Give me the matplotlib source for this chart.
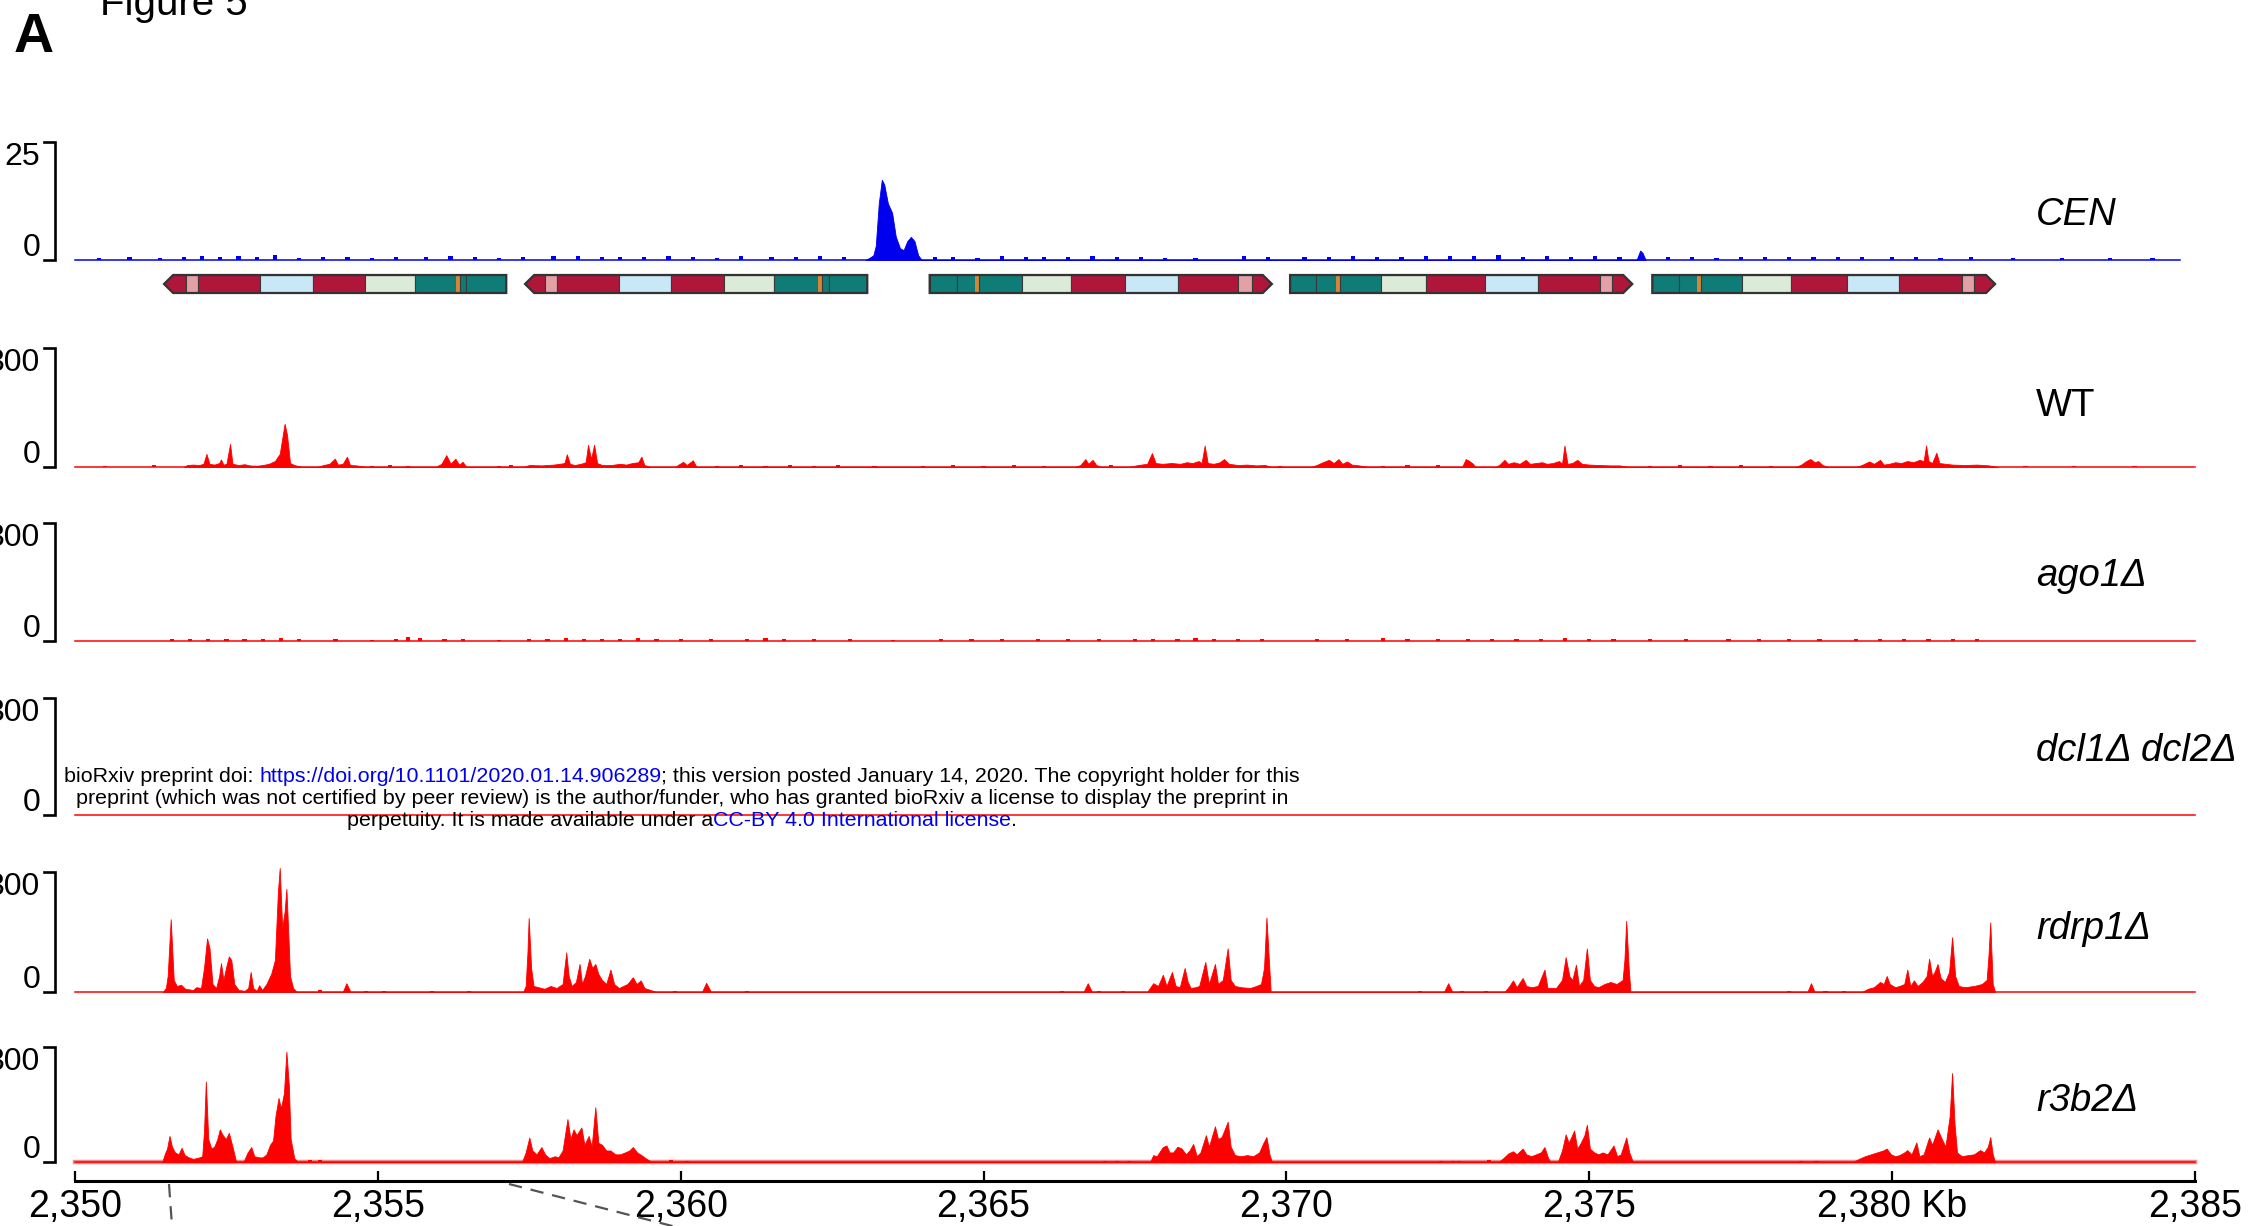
import matplotlib
matplotlib.use("Agg")
import matplotlib.pyplot as plt
from matplotlib.patches import Polygon, Rectangle
from matplotlib.lines import Line2D

plt.rcParams['font.family'] = ['Liberation Sans', 'DejaVu Sans']

W, H = 2249, 1226
fig = plt.figure(figsize=(W / 100, H / 100), dpi=100)

# ---------------- data ----------------
X_START, X_END = 2350, 2385
ruler_ticks = [2350, 2355, 2360, 2365, 2370, 2375, 2380, 2385]
ruler_labels = ['2,350', '2,355', '2,360', '2,365', '2,370', '2,375', '2,380 Kb', '2,385']

track_names = ['CEN', 'WT', 'ago1Δ', 'dcl1Δ dcl2Δ', 'rdrp1Δ', 'r3b2Δ']
track_max = [25, 300, 300, 300, 300, 300]

# CENP-A ChIP coverage (blue)
cen_cov = [(2363.05, 0), (2363.12, 0.5), (2363.18, 1.0), (2363.22, 3), (2363.27, 12),
           (2363.32, 17), (2363.36, 16), (2363.42, 12), (2363.49, 10), (2363.55, 5),
           (2363.62, 2.5), (2363.68, 2.1), (2363.74, 4), (2363.80, 4.9), (2363.86, 4),
           (2363.92, 1), (2363.98, 0),
           (2375.78, 0), (2375.84, 2), (2375.88, 1.5), (2375.93, 0)]
cen_fuzz = [(2350.4, 0.5), (2350.9, 0.6), (2351.4, 0.5), (2351.8, 0.7), (2352.1, 0.9),
            (2352.4, 0.6), (2352.7, 0.8), (2353.0, 0.6), (2353.3, 1.0), (2353.7, 0.5),
            (2354.1, 0.7), (2354.5, 0.6), (2354.9, 0.5), (2355.3, 0.7), (2355.8, 0.6),
            (2356.2, 0.8), (2356.6, 0.6), (2357.0, 0.5), (2357.4, 0.7), (2357.9, 0.9),
            (2358.3, 0.8), (2358.7, 0.6), (2359.0, 0.7), (2359.4, 0.6), (2359.8, 0.8),
            (2360.2, 0.7), (2360.6, 0.5), (2361.0, 0.8), (2361.5, 0.7), (2361.9, 0.6),
            (2362.3, 0.8), (2362.7, 0.7), (2364.2, 0.6), (2364.5, 0.7), (2364.9, 0.5),
            (2365.3, 0.8), (2365.7, 0.6), (2366.0, 0.7), (2366.4, 0.6), (2366.8, 0.8),
            (2367.2, 0.7), (2367.6, 0.6), (2368.0, 0.5), (2368.5, 0.4), (2369.3, 0.8),
            (2369.7, 0.6), (2370.3, 0.7), (2370.7, 0.6), (2371.1, 0.8), (2371.5, 0.6),
            (2371.9, 0.7), (2372.3, 0.8), (2372.7, 0.9), (2373.1, 0.8), (2373.5, 1.0),
            (2373.9, 0.7), (2374.3, 0.8), (2374.7, 0.6), (2375.1, 0.8), (2375.5, 0.7),
            (2376.3, 0.6), (2376.7, 0.7), (2377.1, 0.5), (2377.5, 0.7), (2377.9, 0.6),
            (2378.3, 0.7), (2378.7, 0.6), (2379.1, 0.6), (2379.5, 0.7), (2380.0, 0.6),
            (2380.4, 0.7), (2380.8, 0.5), (2381.3, 0.6), (2382.0, 0.5), (2382.8, 0.5),
            (2383.6, 0.5), (2384.3, 0.5)]

wt_cov = [(2351.80, 0), (2351.85, 5), (2351.95, 6), (2352.05, 5), (2352.12, 8), (2352.17, 33),
          (2352.22, 8), (2352.30, 6), (2352.38, 10), (2352.41, 19), (2352.45, 6), (2352.50, 8),
          (2352.56, 58), (2352.60, 8), (2352.70, 5), (2352.80, 7), (2352.88, 4), (2353.00, 3),
          (2353.10, 5), (2353.20, 8), (2353.30, 15), (2353.38, 33), (2353.43, 80),
          (2353.46, 109), (2353.50, 81), (2353.55, 10), (2353.62, 5), (2353.75, 0),
          (2354.00, 0), (2354.10, 5), (2354.20, 8), (2354.29, 21), (2354.34, 6), (2354.42, 8),
          (2354.49, 26), (2354.54, 5), (2354.65, 4), (2354.80, 0),
          (2355.95, 0), (2356.05, 8), (2356.13, 30), (2356.20, 8), (2356.28, 21),
          (2356.34, 6), (2356.40, 13), (2356.46, 0),
          (2357.40, 0), (2357.50, 5), (2357.70, 4), (2357.90, 6), (2358.00, 8), (2358.08, 10),
          (2358.12, 32), (2358.17, 8), (2358.25, 5), (2358.35, 8), (2358.43, 12),
          (2358.47, 56), (2358.52, 20), (2358.57, 56), (2358.62, 10), (2358.70, 5),
          (2358.85, 5), (2359.00, 8), (2359.10, 6), (2359.20, 10), (2359.30, 12),
          (2359.35, 26), (2359.40, 5), (2359.50, 0),
          (2359.90, 0), (2360.04, 13), (2360.10, 5), (2360.20, 17), (2360.26, 0),
          (2366.50, 0), (2366.60, 5), (2366.68, 20), (2366.73, 8), (2366.80, 18),
          (2366.86, 5), (2366.95, 0),
          (2367.40, 0), (2367.55, 5), (2367.70, 8), (2367.78, 35), (2367.84, 10),
          (2367.95, 8), (2368.10, 10), (2368.25, 8), (2368.35, 12), (2368.45, 10),
          (2368.55, 15), (2368.60, 10), (2368.65, 54), (2368.70, 10), (2368.80, 8),
          (2368.90, 12), (2368.97, 20), (2369.05, 8), (2369.20, 5), (2369.35, 6),
          (2369.50, 4), (2369.65, 5), (2369.75, 0),
          (2370.40, 0), (2370.50, 5), (2370.60, 12), (2370.70, 18), (2370.78, 10),
          (2370.86, 20), (2370.92, 8), (2371.00, 14), (2371.08, 6), (2371.20, 4), (2371.35, 0),
          (2372.90, 0), (2372.96, 20), (2373.02, 15), (2373.08, 8), (2373.12, 0),
          (2373.45, 0), (2373.52, 6), (2373.60, 18), (2373.66, 8), (2373.75, 12),
          (2373.85, 8), (2373.95, 18), (2374.02, 8), (2374.12, 10), (2374.22, 12),
          (2374.30, 8), (2374.40, 10), (2374.50, 15), (2374.55, 8), (2374.59, 54),
          (2374.64, 8), (2374.72, 10), (2374.80, 18), (2374.88, 8), (2375.00, 6),
          (2375.15, 5), (2375.35, 4), (2375.50, 4), (2375.65, 0),
          (2378.40, 0), (2378.50, 6), (2378.58, 15), (2378.65, 20), (2378.72, 12),
          (2378.78, 15), (2378.85, 5), (2378.95, 0),
          (2379.40, 0), (2379.50, 5), (2379.62, 14), (2379.70, 8), (2379.80, 18),
          (2379.86, 6), (2379.95, 8), (2380.05, 12), (2380.15, 10), (2380.25, 15),
          (2380.35, 12), (2380.45, 18), (2380.52, 15), (2380.56, 54), (2380.60, 15),
          (2380.66, 10), (2380.73, 36), (2380.78, 10), (2380.88, 8), (2381.00, 6),
          (2381.20, 5), (2381.40, 6), (2381.60, 4), (2381.75, 0)]
wt_fuzz = [(2350.5, 3), (2351.3, 4), (2354.9, 3), (2355.2, 4), (2355.5, 3), (2357.0, 3),
           (2357.2, 4), (2360.6, 3), (2361.0, 4), (2361.4, 3), (2361.8, 4), (2362.2, 3),
           (2362.6, 4), (2363.2, 3), (2364.0, 3), (2364.5, 4), (2365.0, 3), (2365.5, 4),
           (2366.0, 3), (2367.1, 4), (2369.9, 3), (2371.6, 3), (2372.0, 4), (2372.5, 5),
           (2376.0, 3), (2376.5, 4), (2377.0, 3), (2377.5, 4), (2378.0, 3), (2382.2, 3),
           (2383.0, 3), (2384.0, 3)]

ago1_fuzz = [(2351.6, 4), (2351.9, 5), (2352.2, 6), (2352.5, 5), (2352.8, 4), (2353.1, 6),
             (2353.4, 8), (2353.7, 4), (2354.3, 4), (2354.9, 3), (2355.3, 6), (2355.5, 9),
             (2355.7, 7), (2356.1, 5), (2356.4, 4), (2357.0, 3), (2357.5, 5), (2357.8, 6),
             (2358.1, 7), (2358.4, 6), (2358.7, 5), (2359.0, 6), (2359.3, 8), (2359.6, 5),
             (2360.0, 4), (2360.5, 5), (2361.1, 4), (2361.4, 7), (2361.7, 5), (2362.2, 4),
             (2362.8, 4), (2363.5, 3), (2364.3, 4), (2364.8, 5), (2365.3, 4), (2365.9, 4),
             (2366.4, 5), (2366.9, 4), (2367.5, 6), (2367.8, 5), (2368.2, 6), (2368.5, 7),
             (2368.8, 6), (2369.2, 5), (2369.6, 4), (2370.5, 4), (2371.0, 5), (2371.6, 7),
             (2372.0, 5), (2372.5, 4), (2373.0, 5), (2373.4, 6), (2373.8, 5), (2374.2, 6),
             (2374.6, 7), (2375.0, 5), (2375.4, 4), (2376.0, 4), (2376.6, 4), (2377.3, 5),
             (2377.8, 6), (2378.3, 5), (2378.8, 4), (2379.4, 5), (2379.8, 6), (2380.2, 5),
             (2380.6, 6), (2381.0, 5), (2381.4, 4)]

rdrp1_cov = [(2351.45, 0), (2351.50, 10), (2351.53, 40), (2351.58, 182), (2351.63, 30),
             (2351.68, 15), (2351.75, 18), (2351.82, 8), (2351.95, 5), (2352.00, 12),
             (2352.08, 10), (2352.13, 60), (2352.18, 134), (2352.22, 110), (2352.27, 20),
             (2352.33, 10), (2352.38, 40), (2352.41, 72), (2352.45, 30), (2352.50, 65),
             (2352.54, 89), (2352.58, 80), (2352.63, 20), (2352.70, 5), (2352.80, 3),
             (2352.86, 10), (2352.90, 50), (2352.94, 10), (2353.00, 3), (2353.04, 17),
             (2353.09, 5), (2353.16, 20), (2353.24, 46), (2353.30, 80), (2353.35, 250),
             (2353.38, 310), (2353.42, 160), (2353.46, 200), (2353.49, 258), (2353.52, 150),
             (2353.55, 40), (2353.60, 10), (2353.66, 0),
             (2354.42, 0), (2354.48, 22), (2354.55, 0),
             (2357.40, 0), (2357.44, 15), (2357.47, 100), (2357.49, 185), (2357.53, 60),
             (2357.57, 15), (2357.65, 12), (2357.75, 8), (2357.85, 15), (2357.95, 10),
             (2358.05, 20), (2358.11, 99), (2358.15, 40), (2358.20, 15), (2358.27, 25),
             (2358.33, 70), (2358.37, 20), (2358.42, 40), (2358.49, 83), (2358.54, 60),
             (2358.59, 70), (2358.64, 45), (2358.70, 30), (2358.77, 20), (2358.84, 56),
             (2358.90, 20), (2358.98, 10), (2359.05, 15), (2359.12, 20), (2359.21, 37),
             (2359.27, 20), (2359.34, 29), (2359.40, 10), (2359.50, 5), (2359.60, 0),
             (2360.35, 0), (2360.42, 23), (2360.50, 0),
             (2366.65, 0), (2366.72, 22), (2366.79, 0),
             (2367.70, 0), (2367.80, 22), (2367.88, 15), (2367.96, 43), (2368.02, 15),
             (2368.11, 50), (2368.17, 15), (2368.24, 12), (2368.32, 60), (2368.37, 25),
             (2368.42, 10), (2368.50, 12), (2368.56, 15), (2368.66, 75), (2368.72, 20),
             (2368.82, 70), (2368.87, 20), (2368.95, 30), (2369.03, 109), (2369.08, 30),
             (2369.15, 15), (2369.25, 12), (2369.40, 10), (2369.50, 15), (2369.58, 20),
             (2369.63, 60), (2369.67, 186), (2369.71, 80), (2369.74, 0),
             (2372.60, 0), (2372.67, 22), (2372.74, 0),
             (2373.60, 0), (2373.68, 15), (2373.74, 29), (2373.80, 12), (2373.90, 35),
             (2373.96, 15), (2374.05, 12), (2374.15, 15), (2374.26, 56), (2374.31, 10),
             (2374.45, 10), (2374.55, 30), (2374.61, 87), (2374.67, 40), (2374.72, 30),
             (2374.78, 68), (2374.83, 15), (2374.90, 30), (2374.96, 109), (2375.01, 30),
             (2375.08, 15), (2375.15, 12), (2375.25, 20), (2375.35, 25), (2375.45, 20),
             (2375.55, 30), (2375.58, 80), (2375.61, 178), (2375.65, 60), (2375.68, 0),
             (2378.60, 0), (2378.66, 22), (2378.72, 0),
             (2379.50, 0), (2379.60, 8), (2379.70, 12), (2379.80, 25), (2379.86, 20),
             (2379.91, 40), (2379.96, 20), (2380.05, 12), (2380.12, 15), (2380.20, 20),
             (2380.25, 56), (2380.30, 15), (2380.36, 29), (2380.42, 15), (2380.50, 25),
             (2380.57, 40), (2380.61, 83), (2380.66, 40), (2380.70, 50), (2380.75, 70),
             (2380.80, 35), (2380.87, 25), (2380.94, 50), (2380.99, 137), (2381.04, 40),
             (2381.10, 15), (2381.20, 12), (2381.35, 15), (2381.48, 20), (2381.56, 30),
             (2381.59, 90), (2381.62, 174), (2381.66, 20), (2381.70, 0)]
rdrp1_fuzz = [(2354.05, 4), (2354.8, 3), (2355.1, 3), (2355.9, 3), (2356.5, 3),
              (2359.9, 3), (2361.1, 3), (2366.3, 3), (2366.9, 3), (2367.3, 3),
              (2372.2, 3), (2372.9, 3), (2373.3, 3), (2378.3, 3), (2378.9, 3), (2379.2, 3)]

r3b2_cov = [(2351.44, 0), (2351.48, 20), (2351.52, 35), (2351.56, 68), (2351.60, 40),
            (2351.65, 25), (2351.71, 20), (2351.76, 37), (2351.81, 18), (2351.88, 12),
            (2351.95, 8), (2352.05, 12), (2352.10, 15), (2352.13, 80), (2352.16, 210),
            (2352.20, 60), (2352.25, 35), (2352.30, 40), (2352.35, 60), (2352.39, 85),
            (2352.44, 70), (2352.49, 60), (2352.54, 76), (2352.60, 40), (2352.66, 0),
            (2352.78, 0), (2352.85, 25), (2352.91, 39), (2352.96, 15), (2353.04, 12),
            (2353.10, 12), (2353.16, 20), (2353.22, 45), (2353.27, 56), (2353.31, 120),
            (2353.36, 167), (2353.40, 140), (2353.45, 180), (2353.49, 288), (2353.53, 200),
            (2353.56, 60), (2353.62, 10), (2353.68, 0),
            (2357.38, 0), (2357.44, 25), (2357.50, 64), (2357.55, 30), (2357.62, 20),
            (2357.70, 39), (2357.76, 20), (2357.83, 10), (2357.92, 15), (2357.98, 12),
            (2358.05, 30), (2358.13, 112), (2358.18, 60), (2358.23, 85), (2358.28, 70),
            (2358.36, 90), (2358.41, 45), (2358.48, 68), (2358.53, 40), (2358.59, 143),
            (2358.64, 50), (2358.70, 45), (2358.77, 30), (2358.84, 30), (2358.92, 20),
            (2359.00, 20), (2359.08, 25), (2359.15, 30), (2359.21, 39), (2359.28, 25),
            (2359.35, 18), (2359.42, 10), (2359.52, 0),
            (2367.75, 0), (2367.80, 18), (2367.86, 15), (2367.92, 30), (2367.96, 39),
            (2368.02, 43), (2368.07, 25), (2368.13, 25), (2368.20, 40), (2368.27, 35),
            (2368.34, 20), (2368.40, 30), (2368.46, 47), (2368.52, 15), (2368.58, 25),
            (2368.67, 70), (2368.72, 40), (2368.82, 93), (2368.87, 60), (2368.93, 65),
            (2369.03, 105), (2369.08, 40), (2369.15, 18), (2369.25, 15), (2369.35, 18),
            (2369.45, 15), (2369.55, 25), (2369.62, 50), (2369.67, 65), (2369.72, 20),
            (2369.76, 0),
            (2373.50, 0), (2373.58, 10), (2373.66, 22), (2373.74, 28), (2373.80, 20),
            (2373.90, 35), (2373.96, 20), (2374.04, 15), (2374.12, 20), (2374.20, 25),
            (2374.26, 39), (2374.32, 10), (2374.36, 0), (2374.48, 0), (2374.55, 30),
            (2374.61, 72), (2374.66, 50), (2374.75, 82), (2374.80, 35), (2374.86, 50),
            (2374.92, 70), (2374.96, 97), (2375.01, 35), (2375.08, 25), (2375.15, 20),
            (2375.22, 25), (2375.30, 20), (2375.40, 43), (2375.46, 15), (2375.52, 20),
            (2375.61, 64), (2375.66, 25), (2375.72, 0),
            (2379.35, 0), (2379.45, 8), (2379.55, 15), (2379.65, 20), (2379.75, 25),
            (2379.85, 30), (2379.91, 35), (2379.98, 20), (2380.05, 15), (2380.12, 18),
            (2380.20, 25), (2380.25, 31), (2380.32, 20), (2380.40, 51), (2380.45, 15),
            (2380.52, 20), (2380.61, 64), (2380.66, 45), (2380.75, 85), (2380.82, 60),
            (2380.88, 40), (2380.95, 120), (2380.99, 232), (2381.03, 100), (2381.07, 25),
            (2381.15, 15), (2381.25, 18), (2381.35, 20), (2381.45, 31), (2381.52, 25),
            (2381.58, 40), (2381.62, 65), (2381.66, 20), (2381.70, 0)]
r3b2_fuzz = [(2353.88, 4), (2354.05, 4), (2359.84, 4), (2360.10, 3), (2367.0, 3),
             (2367.2, 3), (2367.4, 3), (2372.55, 3), (2372.75, 3), (2372.85, 3),
             (2373.35, 4), (2378.5, 3), (2378.75, 3)]

# gene annotation: strand, segment boundaries (kb), segment colour codes
gene_blocks = [
    ('-', [2351.47, 2351.83, 2352.03, 2353.05, 2353.93, 2354.79, 2355.61, 2356.29, 2356.35,
           2356.46, 2357.12], 'RPRBRGTOTT'),
    ('-', [2357.43, 2357.76, 2357.96, 2358.98, 2359.84, 2360.72, 2361.54, 2362.27, 2362.33,
           2362.45, 2363.08], 'RPRBRGTOTT'),
    ('+', [2364.11, 2364.56, 2364.86, 2364.92, 2365.64, 2366.44, 2367.34, 2368.21, 2369.20,
           2369.43, 2369.76], 'TTOTGRBRPR'),
    ('+', [2370.06, 2370.49, 2370.82, 2370.88, 2371.56, 2372.31, 2373.28, 2374.15, 2375.18,
           2375.38, 2375.71], 'TTOTGRBRPR'),
    ('+', [2376.04, 2376.48, 2376.78, 2376.84, 2377.52, 2378.33, 2379.26, 2380.11, 2381.15,
           2381.35, 2381.70], 'TTOTGRBRPR'),
]
gene_colors = {'R': '#B0163A', 'P': '#E3A1A6', 'B': '#C8E7F7', 'G': '#DCEBD8',
               'T': '#0F7C77', 'O': '#D0873A'}

# ---------------- layout helpers (pixel rows of the canvas) ----------------
LEFT_PX, RIGHT_PX = 75, 2195


def px_axes(top, bottom, left=LEFT_PX, right=RIGHT_PX):
    return fig.add_axes([left / W, 1 - bottom / H, (right - left) / W, (bottom - top) / H])


def px_to_ax(px):
    return (px - LEFT_PX) / (RIGHT_PX - LEFT_PX)


BLUE = '#0000EE'
RED = '#FF0000'

track_rows = [(142, 260), (348, 467), (523, 641), (698, 815), (872, 992), (1047, 1162)]
track_label_y = [215, 406, 576, 751, 929, 1101]
track_cov = [cen_cov, wt_cov, [], [], rdrp1_cov, r3b2_cov]
track_fuzz = [cen_fuzz, wt_fuzz, ago1_fuzz, [], rdrp1_fuzz, r3b2_fuzz]
track_colour = [BLUE, RED, RED, RED, RED, RED]
track_style = ['italic', 'normal', 'italic', 'italic', 'italic', 'italic']

for i, name in enumerate(track_names):
    top, bottom = track_rows[i]
    ymax = track_max[i]
    col = track_colour[i]
    ax = px_axes(top, bottom)
    ax.set_xlim(X_START, X_END)
    ax.set_ylim(0, ymax)
    ax.axis('off')

    # baseline
    end = 2384.75 if i == 0 else X_END
    if i == 5:
        ax.plot([X_START, end], [0, 0], color='#F28A8A', lw=3.2, clip_on=False, zorder=1)
    ax.plot([X_START, end], [0, 0], color=col, lw=1.1, clip_on=False, zorder=2)

    # coverage profile
    cov = track_cov[i]
    if cov:
        xs = [p for p, _ in cov]
        ys = [v for _, v in cov]
        ax.fill_between(xs, ys, 0, facecolor=col, edgecolor=col, lw=0.6,
                        clip_on=False, zorder=3)
    fuzz = track_fuzz[i]
    if fuzz:
        ax.bar([p for p, _ in fuzz], [v for _, v in fuzz], width=0.07,
               color=col, lw=0, clip_on=False, zorder=3)

    # data-range bracket
    trans = ax.get_yaxis_transform()
    xb, xt = px_to_ax(55), px_to_ax(44)
    ax.plot([xt, xb, xb, xt], [ymax, ymax, 0, 0], color='black', lw=1.9,
            transform=trans, clip_on=False, solid_joinstyle='miter')
    ax.annotate(str(ymax), xy=(px_to_ax(40), ymax), xycoords=trans,
                ha='right', va='top', fontsize=23, annotation_clip=False)
    ax.annotate('0', xy=(px_to_ax(40), 0), xycoords=trans, xytext=(0, 3),
                textcoords='offset points', ha='right', va='baseline', fontsize=23,
                annotation_clip=False)

    fig.text(2036 / W, 1 - track_label_y[i] / H, name, fontsize=27.5,
             style=track_style[i], ha='left', va='center')

# ---------------- gene annotation ----------------
gax = px_axes(275, 293)
gax.set_xlim(X_START, X_END)
gax.set_ylim(0, 1)
gax.axis('off')
TIP = 0.15
for strand, bounds, codes in gene_blocks:
    a, b = bounds[0], bounds[-1]
    if strand == '-':
        outline = [(a, 0.5), (a + TIP, 1), (b, 1), (b, 0), (a + TIP, 0)]
    else:
        outline = [(a, 0), (a, 1), (b - TIP, 1), (b, 0.5), (b - TIP, 0)]
    shape = Polygon(outline, closed=True, fill=False, edgecolor='#333333', lw=1.6,
                    clip_on=False, zorder=4, joinstyle='miter')
    gax.add_patch(shape)
    for k, code in enumerate(codes):
        seg = Rectangle((bounds[k], 0), bounds[k + 1] - bounds[k], 1,
                        facecolor=gene_colors[code],
                        edgecolor='none' if code == 'O' else '#3a3a3a',
                        lw=0.8, zorder=3)
        gax.add_patch(seg)
        seg.set_clip_path(shape)

# ---------------- coordinate ruler ----------------
rax = px_axes(1150, 1181)
rax.set_xlim(X_START, X_END)
rax.set_ylim(0, 1)
rax.patch.set_visible(False)
for s in ['top', 'left', 'right']:
    rax.spines[s].set_visible(False)
rax.spines['bottom'].set_linewidth(2.2)
rax.set_yticks([])
rax.set_xticks(ruler_ticks)
rax.set_xticklabels(ruler_labels, fontsize=27)
rax.tick_params(axis='x', direction='in', length=7, width=1.6, pad=6)

# dashed zoom connectors below the ruler
for (xa, ya), (xb2, yb2) in [((169, 1184), (172, 1226)), ((509, 1184), (680, 1228))]:
    fig.add_artist(Line2D([xa / W, xb2 / W], [1 - ya / H, 1 - yb2 / H],
                          transform=fig.transFigure, color='#555555', lw=1.6,
                          dashes=(6, 4)))

# ---------------- panel headings ----------------
fig.text(100 / W, 1 - 15 / H, 'Figure 5', fontsize=29, ha='left', va='baseline')
fig.text(14 / W, 1 - 52 / H, 'A', fontsize=40, weight='bold', ha='left', va='baseline')

# ---------------- preprint notice ----------------
renderer = fig.canvas.get_renderer()


def text_width(s, size):
    t = fig.text(0, 0, s, fontsize=size)
    w = t.get_window_extent(renderer).width
    t.remove()
    return w


NOTE_SIZE = 15.4
space_w = text_width('x x', NOTE_SIZE) - text_width('xx', NOTE_SIZE)
notice = [
    (777, [('bioRxiv preprint doi:', 'black'), (' ', None),
           ('https://doi.org/10.1101/2020.01.14.906289', '#0000EE'),
           ('; this version posted January 14, 2020. The copyright holder for this', 'black')]),
    (799, [('preprint (which was not certified by peer review) is the author/funder, '
            'who has granted bioRxiv a license to display the preprint in', 'black')]),
    (820, [('perpetuity. It is made available under a', 'black'),
           ('CC-BY 4.0 International license', '#0000EE'), ('.', 'black')]),
]
CENTER_X = 682
for y, pieces in notice:
    widths = [space_w if c is None else text_width(s, NOTE_SIZE) for s, c in pieces]
    x = CENTER_X - sum(widths) / 2
    for (s, c), w in zip(pieces, widths):
        if c is not None:
            fig.text(x / W, 1 - y / H, s, fontsize=NOTE_SIZE, color=c, ha='left', va='center')
        x += w

fig.savefig('out.png', dpi=100)
